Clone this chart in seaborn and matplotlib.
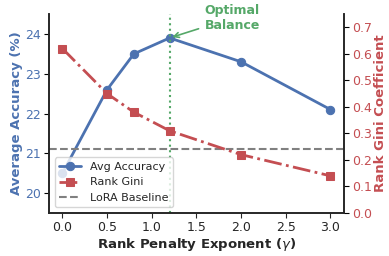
import matplotlib
matplotlib.use("Agg")
import matplotlib.pyplot as plt
import seaborn as sns
import pandas as pd

gamma = [0.0, 0.5, 0.8, 1.2, 2.0, 3.0]
accuracy = [20.5, 22.6, 23.5, 23.9, 23.3, 22.1]
gini = [0.62, 0.45, 0.38, 0.31, 0.22, 0.14]
baseline = 21.1
optimal_gamma = 1.2

sns.set_style("ticks")
plt.rcParams['font.family'] = ['DejaVu Sans']

blue = "#4C72B0"
red = "#C44E52"
green = "#55A868"

df = pd.DataFrame({"gamma": gamma, "acc": accuracy, "gini": gini})

fig, ax1 = plt.subplots(figsize=(3.89, 2.56), dpi=100)
ax2 = ax1.twinx()

sns.lineplot(data=df, x="gamma", y="acc", ax=ax1, color=blue, marker="o",
             markersize=6, linewidth=2, markeredgecolor=blue, label="Avg Accuracy", legend=False)
sns.lineplot(data=df, x="gamma", y="gini", ax=ax2, color=red, marker="s",
             markersize=6, linewidth=2, linestyle="-.", markeredgecolor=red, label="Rank Gini", legend=False)
bl = ax1.axhline(baseline, color="gray", linestyle="--", linewidth=1.5, label="LoRA Baseline")
ax1.axvline(optimal_gamma, color=green, linestyle=":", linewidth=1.5)

ax1.set_xlim(-0.15, 3.15)
ax1.set_ylim(19.5, 24.5)
ax2.set_ylim(0, 0.75)
ax1.set_xticks([0, 0.5, 1.0, 1.5, 2.0, 2.5, 3.0])
ax1.set_yticks([20, 21, 22, 23, 24])
ax2.set_yticks([0, 0.1, 0.2, 0.3, 0.4, 0.5, 0.6, 0.7])

ax1.set_xlabel("Rank Penalty Exponent ($\\gamma$)", fontsize=9.5, fontweight="bold", labelpad=1)
ax1.set_ylabel("Average Accuracy (%)", fontsize=9.5, fontweight="bold", color=blue, labelpad=1)
ax2.set_ylabel("Rank Gini Coefficient", fontsize=9.5, fontweight="bold", color=red, labelpad=1)
ax1.tick_params(axis="y", labelcolor=blue, labelsize=9, color="black", pad=2.5)
ax2.tick_params(axis="y", labelcolor=red, labelsize=9, color="black", pad=2.5)
ax1.tick_params(axis="x", labelsize=9, pad=2.5)

for a in (ax1, ax2):
    a.spines["top"].set_visible(False)
    for s in ("left", "right", "bottom"):
        a.spines[s].set_linewidth(1.2)

ax1.annotate("Optimal\nBalance", xy=(optimal_gamma, accuracy[3]), xytext=(1.9, 24.4),
             color=green, fontweight="bold", fontsize=9, ha="center", va="center",
             arrowprops=dict(arrowstyle="->", color=green, lw=1.2), annotation_clip=False)

h1, l1 = ax1.get_legend_handles_labels()
h2, l2 = ax2.get_legend_handles_labels()
leg = ax2.legend(h1[:1] + h2 + [bl], ["Avg Accuracy", "Rank Gini", "LoRA Baseline"],
                 loc="lower left", fontsize=8, frameon=True)

fig.subplots_adjust(left=0.126, right=0.884, top=0.945, bottom=0.168)
fig.savefig("out.png", dpi=100)
